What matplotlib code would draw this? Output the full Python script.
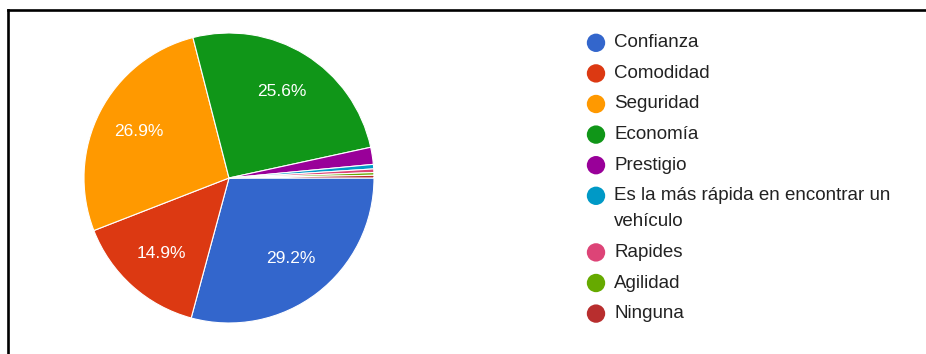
import matplotlib.pyplot as plt
from matplotlib.lines import Line2D

# Motivos de elección (porcentaje de respuestas)
categorias = ['Confianza', 'Comodidad', 'Seguridad', 'Economía', 'Prestigio',
              'Es la más rápida en encontrar un\nvehículo', 'Rapides', 'Agilidad', 'Ninguna']
porcentajes = [29.2, 14.9, 26.9, 25.6, 1.9, 0.5, 0.4, 0.3, 0.3]
colores = ['#3366cc', '#dc3912', '#ff9900', '#109618', '#990099',
           '#0099c6', '#dd4477', '#66aa00', '#b82e2e']

W, H = 926, 354
fig = plt.figure(figsize=(W / 100, H / 100), dpi=100)
plt.rcParams['font.family'] = ['Liberation Sans', 'DejaVu Sans']

# pie: centre (229, 178) px, radius 145 px
cx, cy, r = 229, 178, 145
ax = fig.add_axes([(cx - r) / W, (H - cy - r) / H, 2 * r / W, 2 * r / H])


def etiqueta(p):
    return f'{p:.1f}%' if p >= 5 else ''


wedges, _, autotexts = ax.pie(porcentajes, colors=colores, startangle=0,
                              counterclock=False, autopct=etiqueta,
                              pctdistance=0.7, radius=1,
                              wedgeprops=dict(edgecolor='white', linewidth=0.8))
for t in autotexts:
    t.set_color('white')
    t.set_fontsize(12.5)
ax.set_xlim(-1, 1)
ax.set_ylim(-1, 1)
ax.axis('off')

# legend drawn row by row, wrapped labels get one extra line
leg = fig.add_axes([0, 0, 1, 1])
leg.set_xlim(0, W)
leg.set_ylim(H, 0)
leg.axis('off')
y = 42.8
for nombre, color in zip(categorias, colores):
    leg.scatter([596], [y], s=175, color=color, edgecolors='none')
    for i, linea in enumerate(nombre.split('\n')):
        leg.text(614, y + 26 * i, linea, fontsize=13.5, color='#222222',
                 va='center', ha='left')
    y += 30.6 + 26 * nombre.count('\n')

# frame lines along the top and left
leg.add_line(Line2D([8, W], [10, 10], color='black', lw=1.9))
leg.add_line(Line2D([8, 8], [10, H], color='black', lw=1.9))

fig.savefig('out.png', dpi=100)
